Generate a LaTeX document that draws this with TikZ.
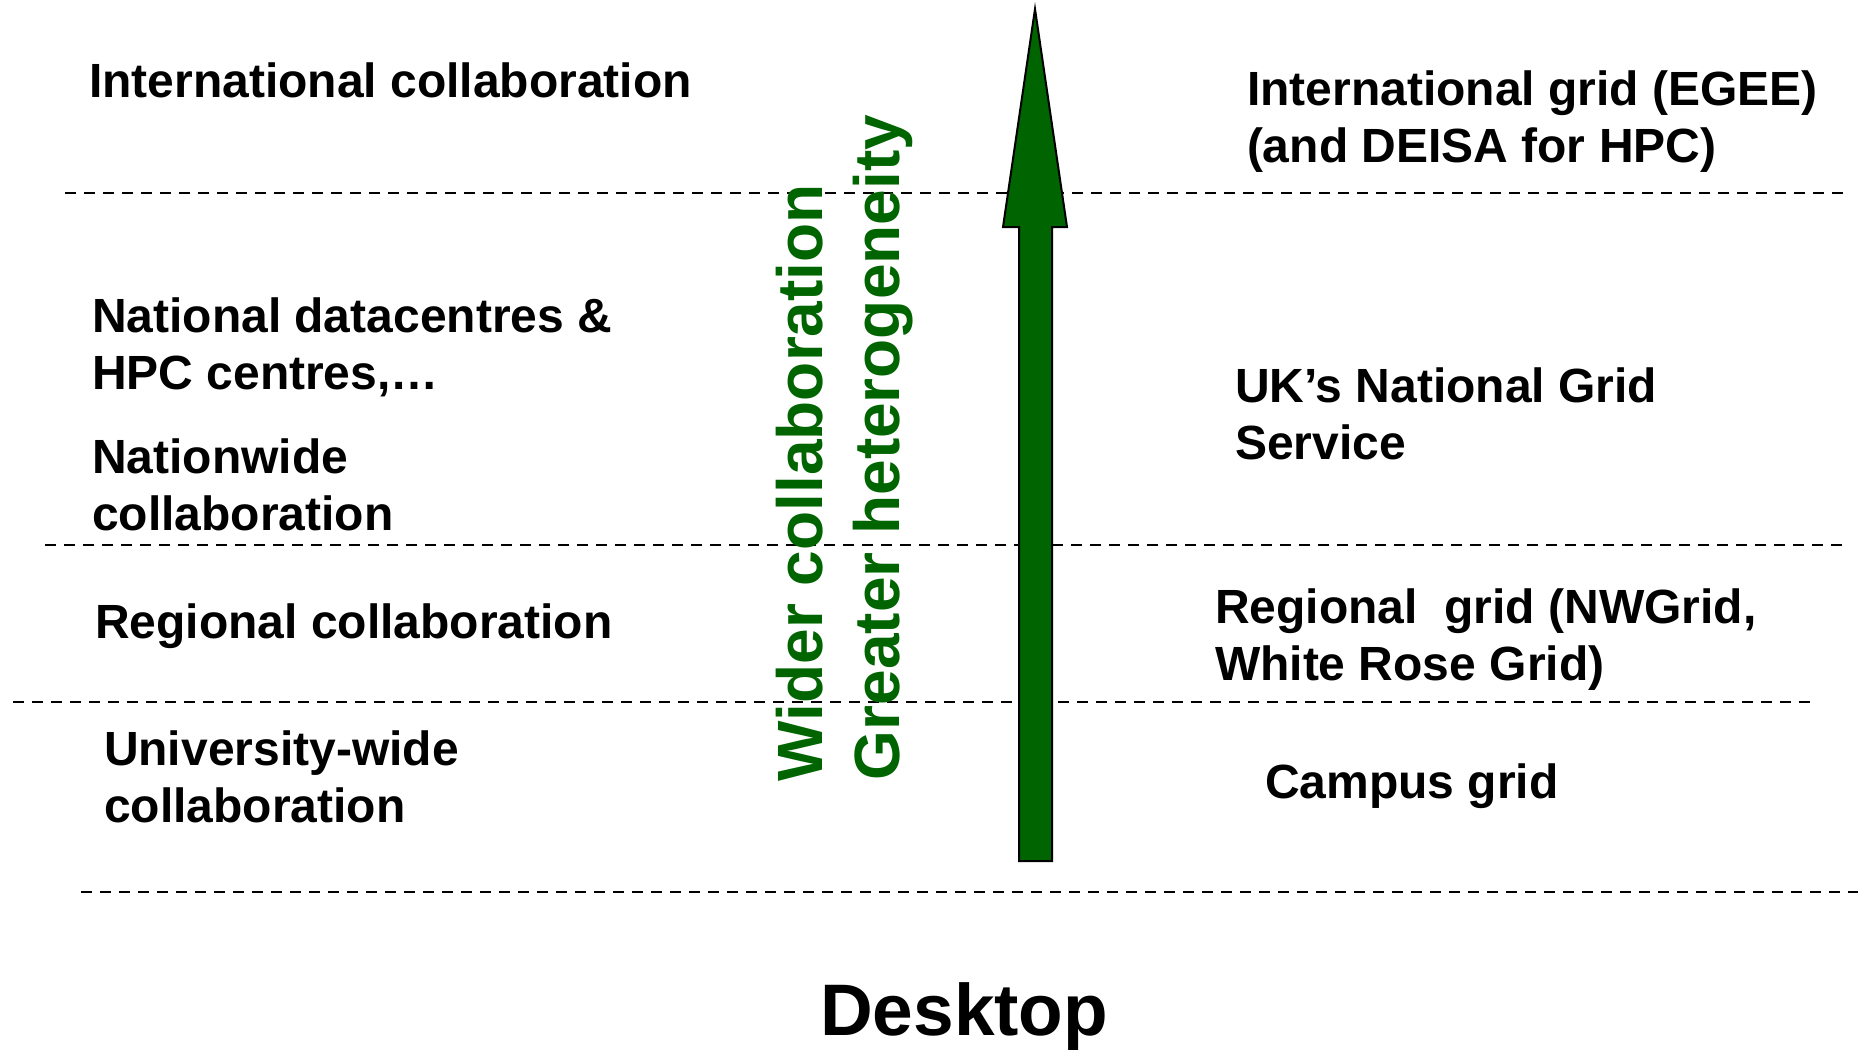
\documentclass[tikz,border=0pt]{standalone}
\usepackage{fontspec}
\setmainfont{Liberation Sans}
\definecolor{darkgreen}{RGB}{0,100,0}
\begin{document}
\begin{tikzpicture}[x=1bp,y=-1bp,
  sepline/.style={line width=2.8bp, dash pattern=on 11bp off 8bp},
  lbl/.style={anchor=base west, inner sep=0pt, outer sep=0pt, align=left,
    font=\bfseries\fontsize{48bp}{57bp}\selectfont},
  gtxt/.style={anchor=base west, inner sep=0pt, outer sep=0pt, rotate=90,
    text=darkgreen, font=\bfseries\fontsize{64bp}{70bp}\selectfont},
  bigarrow/.style={fill=darkgreen, draw=black, line width=2bp, line join=miter}]
\useasboundingbox[fill=white] (0,0) rectangle (1858,1049);

% dashed separators
\draw[sepline] (65,193) -- (1851,193);
\draw[sepline] (45,545) -- (1845,545);
\draw[sepline] (13,702) -- (1813,702);
\draw[sepline] (81,892) -- (1858,892);

% big arrow
\draw[bigarrow] (1035,9) -- (1067,227) -- (1052,227) -- (1052,861)
  -- (1019,861) -- (1019,227) -- (1003,227) -- cycle;

% green vertical labels
\node[gtxt] (wider) at (822,781) {Wider collaboration};
\node[gtxt] (greater) at (899,780) {Greater heterogeneity};

% left column (base anchor = baseline of the last line)
\node[lbl] (intl) at (89,97) {International collaboration};
\node[lbl] (natdc) at (92,389) {National datacentres \&\\HPC centres,…};
\node[lbl] (natw) at (92,530) {Nationwide\\collaboration};
\node[lbl] (reg) at (95,638) {Regional collaboration};
\node[lbl] (univ) at (104,822) {University-wide\\collaboration};

% right column
\node[lbl] (intlgrid) at (1247,162) {International grid (EGEE)\\(and DEISA for HPC)};
\node[lbl] (ngs) at (1235,459) {UK’s National Grid\\Service};
\node[lbl] (reggrid) at (1215,680) {Regional~ grid (NWGrid,\\White Rose Grid)};
\node[lbl] (campus) at (1265,798) {Campus grid};

% bottom
\node[anchor=base west, inner sep=0pt, font=\bfseries\fontsize{73bp}{80bp}\selectfont] (desk) at (820,1035) {Desktop};
\end{tikzpicture}
\end{document}
